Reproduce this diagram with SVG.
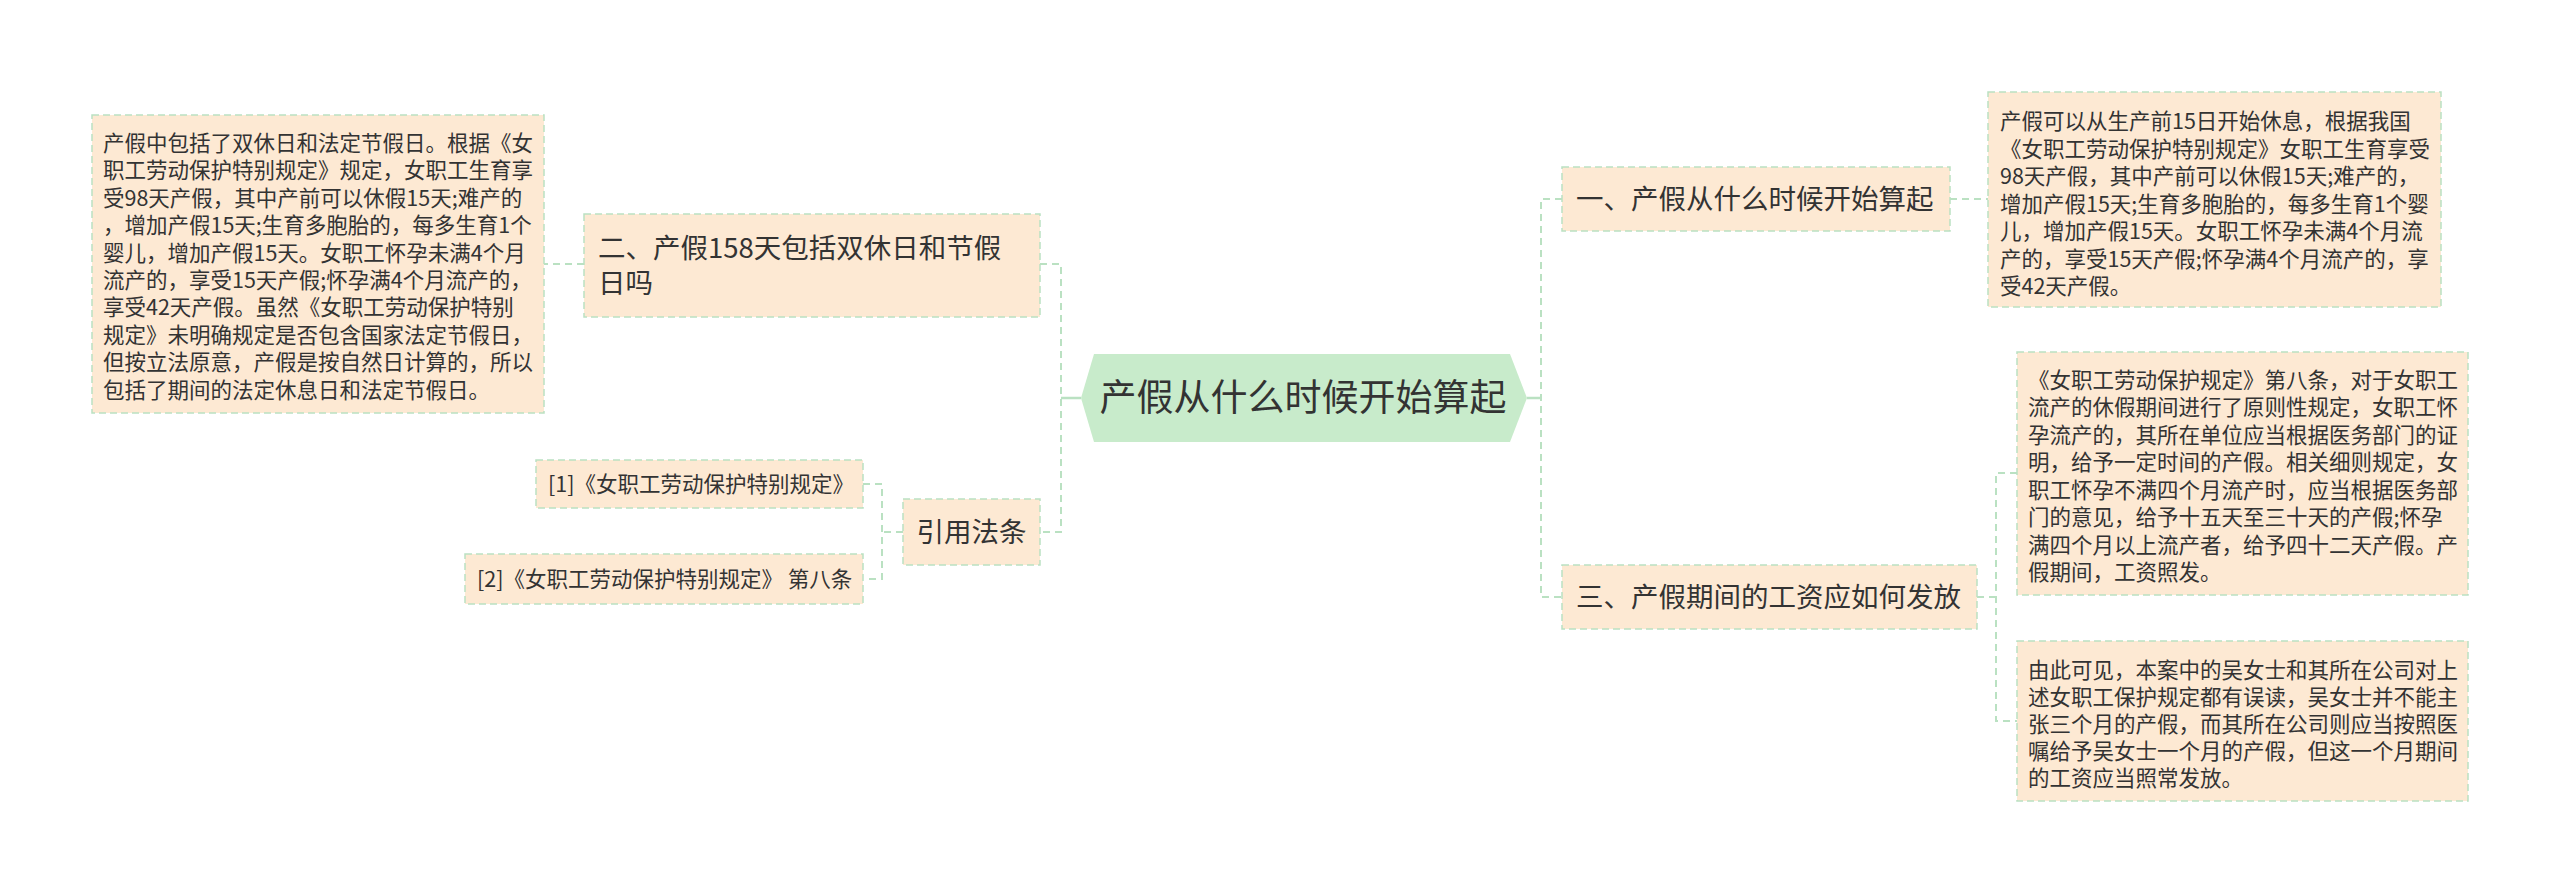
<svg xmlns="http://www.w3.org/2000/svg" width="2560" height="893" viewBox="0 0 2560 893">
<style>
.box{fill:#fde9d3;stroke:#bae1c2;stroke-width:1.5;stroke-dasharray:7 4}
.root{fill:#c8ebcb}
.c{fill:none;stroke:#bae1c2;stroke-width:2;stroke-dasharray:7 5}
.cs{fill:none;stroke:#bae1c2;stroke-width:2.5}
.t{font-family:"Noto Sans CJK SC","Microsoft YaHei",sans-serif;fill:#333}
.s{font-size:21.5px}
.m{font-size:27.5px}
.r{font-size:37px}
</style>
<rect width="2560" height="893" fill="#ffffff"/>
<g id="connectors">
<path class="cs" d="M1081 398H1061"/>
<path class="c" d="M1040 264H1061V532H1040"/>
<path class="c" d="M584 264H544"/>
<path class="c" d="M903 532H882"/>
<path class="c" d="M863 484H882V579H864"/>
<path class="cs" d="M1527 398H1541"/>
<path class="c" d="M1562 199H1541V597H1562"/>
<path class="c" d="M1950 199H1988"/>
<path class="c" d="M1977 597H1996"/>
<path class="c" d="M2017 473H1996V721H2017"/>
</g>
<g id="root">
<polygon class="root" points="1081,398 1094,354 1510,354 1527,398 1510,442 1094,442"/>
<text class="t r" x="1303" y="411" text-anchor="middle">产假从什么时候开始算起</text>
</g>
<g id="n2">
<rect class="box" x="584" y="214" width="456" height="103"/>
<text class="t m" x="598" y="257.5">二、产假158天包括双休日和节假</text>
<text class="t m" x="598" y="292.5">日吗</text>
</g>
<g id="n2-leaf">
<rect class="box" x="92" y="115" width="452" height="298"/>
<text class="t s" x="103" y="151">产假中包括了双休日和法定节假日。根据《女</text>
<text class="t s" x="103" y="178.4">职工劳动保护特别规定》规定，女职工生育享</text>
<text class="t s" x="103" y="205.8">受98天产假，其中产前可以休假15天;难产的</text>
<text class="t s" x="103" y="233.2">，增加产假15天;生育多胞胎的，每多生育1个</text>
<text class="t s" x="103" y="260.6">婴儿，增加产假15天。女职工怀孕未满4个月</text>
<text class="t s" x="103" y="288">流产的，享受15天产假;怀孕满4个月流产的，</text>
<text class="t s" x="103" y="315.4">享受42天产假。虽然《女职工劳动保护特别</text>
<text class="t s" x="103" y="342.8">规定》未明确规定是否包含国家法定节假日，</text>
<text class="t s" x="103" y="370.2">但按立法原意，产假是按自然日计算的，所以</text>
<text class="t s" x="103" y="397.6">包括了期间的法定休息日和法定节假日。</text>
</g>
<g id="ref">
<rect class="box" x="903" y="499" width="137" height="66"/>
<text class="t m" x="971.5" y="541.5" text-anchor="middle">引用法条</text>
</g>
<g id="ref1">
<rect class="box" x="536" y="460" width="327" height="48"/>
<text class="t s" x="548" y="491.5">[1]《女职工劳动保护特别规定》</text>
</g>
<g id="ref2">
<rect class="box" x="465" y="554" width="398" height="50"/>
<text class="t s" x="477" y="586.5">[2]《女职工劳动保护特别规定》 第八条</text>
</g>
<g id="n1">
<rect class="box" x="1562" y="167" width="388" height="64"/>
<text class="t m" x="1576" y="208.5">一、产假从什么时候开始算起</text>
</g>
<g id="n1-leaf">
<rect class="box" x="1988" y="92" width="453" height="215"/>
<text class="t s" x="2000" y="129.2">产假可以从生产前15日开始休息，根据我国</text>
<text class="t s" x="2000" y="156.7">《女职工劳动保护特别规定》女职工生育享受</text>
<text class="t s" x="2000" y="184.2">98天产假，其中产前可以休假15天;难产的，</text>
<text class="t s" x="2000" y="211.7">增加产假15天;生育多胞胎的，每多生育1个婴</text>
<text class="t s" x="2000" y="239.2">儿，增加产假15天。女职工怀孕未满4个月流</text>
<text class="t s" x="2000" y="266.7">产的，享受15天产假;怀孕满4个月流产的，享</text>
<text class="t s" x="2000" y="294.2">受42天产假。</text>
</g>
<g id="n3">
<rect class="box" x="1562" y="565" width="415" height="64"/>
<text class="t m" x="1576" y="606.5">三、产假期间的工资应如何发放</text>
</g>
<g id="n3-leaf1">
<rect class="box" x="2017" y="352" width="451" height="243"/>
<text class="t s" x="2028" y="387.5">《女职工劳动保护规定》第八条，对于女职工</text>
<text class="t s" x="2028" y="415">流产的休假期间进行了原则性规定，女职工怀</text>
<text class="t s" x="2028" y="442.5">孕流产的，其所在单位应当根据医务部门的证</text>
<text class="t s" x="2028" y="470">明，给予一定时间的产假。相关细则规定，女</text>
<text class="t s" x="2028" y="497.5">职工怀孕不满四个月流产时，应当根据医务部</text>
<text class="t s" x="2028" y="525">门的意见，给予十五天至三十天的产假;怀孕</text>
<text class="t s" x="2028" y="552.5">满四个月以上流产者，给予四十二天产假。产</text>
<text class="t s" x="2028" y="580">假期间，工资照发。</text>
</g>
<g id="n3-leaf2">
<rect class="box" x="2017" y="641" width="451" height="160"/>
<text class="t s" x="2028" y="677.5">由此可见，本案中的吴女士和其所在公司对上</text>
<text class="t s" x="2028" y="704.5">述女职工保护规定都有误读，吴女士并不能主</text>
<text class="t s" x="2028" y="731.5">张三个月的产假，而其所在公司则应当按照医</text>
<text class="t s" x="2028" y="758.5">嘱给予吴女士一个月的产假，但这一个月期间</text>
<text class="t s" x="2028" y="785.5">的工资应当照常发放。</text>
</g>
</svg>
